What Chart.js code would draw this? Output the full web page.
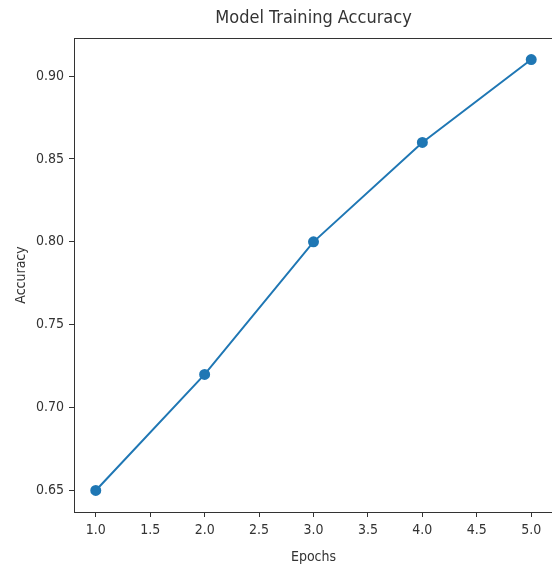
<!DOCTYPE html>
<html>
<head>
<meta charset="utf-8">
<script src="https://cdn.jsdelivr.net/npm/chart.js@4"></script>
<style>
  html, body { margin: 0; padding: 0; background: #fff; overflow: hidden; }
  #wrap { width: 600px; height: 568px; }
</style>
</head>
<body>
<div id="wrap"><canvas id="accChart"></canvas></div>
<script>
// data
const epochs = [1, 2, 3, 4, 5];
const accuracy = [0.65, 0.72, 0.80, 0.86, 0.91];
const xTicks = [1.0, 1.5, 2.0, 2.5, 3.0, 3.5, 4.0, 4.5, 5.0];
const yTicks = [0.65, 0.70, 0.75, 0.80, 0.85, 0.90];
const chartTitle = 'Model Training Accuracy';

const textColor = '#333';
const family = "'DejaVu Sans Condensed', 'DejaVu Sans', sans-serif";
const font = { family: family, size: 14 };

// top spine + title centred over the plot area (matplotlib style);
// the right spine falls just outside the cropped picture
const frame = {
    id: 'frame',
    afterDraw(chart) {
        const a = chart.chartArea;
        const c = chart.ctx;
        c.save();
        c.strokeStyle = '#333';
        c.lineWidth = 1;
        c.beginPath();
        c.moveTo(a.left, a.top + 0.5);
        c.lineTo(a.right, a.top + 0.5);
        c.stroke();
        c.fillStyle = textColor;
        c.font = '18px ' + family;
        c.textAlign = 'center';
        c.textBaseline = 'middle';
        c.fillText(chartTitle, (a.left + a.right) / 2, 18);
        c.restore();
    }
};

const ctx = document.getElementById('accChart').getContext('2d');
new Chart(ctx, {
    type: 'line',
    data: {
        datasets: [{
            data: epochs.map((e, i) => ({ x: e, y: accuracy[i] })),
            borderColor: '#1f77b4',
            backgroundColor: '#1f77b4',
            borderWidth: 2,
            pointRadius: 4.5,
            pointHoverRadius: 4.5,
            tension: 0
        }]
    },
    options: {
        responsive: true,
        maintainAspectRatio: false,
        animation: false,
        layout: { padding: { left: 9, right: 47, top: 38, bottom: 0 } },
        plugins: {
            legend: { display: false },
            tooltip: { enabled: false },
            title: { display: false }
        },
        scales: {
            x: {
                type: 'linear',
                min: 0.8,
                max: 5.2,
                afterBuildTicks: s => { s.ticks = xTicks.map(v => ({ value: v })); },
                afterFit: s => { s.height = 56; },
                ticks: {
                    color: textColor, font: font, padding: 5, maxRotation: 0,
                    callback: v => v.toFixed(1)
                },
                grid: { drawOnChartArea: false, tickLength: 5, color: '#333' },
                border: { color: '#333' },
                title: { display: true, text: 'Epochs', color: textColor, font: font, padding: { top: 4, bottom: 2 } }
            },
            y: {
                min: 0.637,
                max: 0.923,
                afterBuildTicks: s => { s.ticks = yTicks.map(v => ({ value: v })); },
                afterFit: s => { s.width = 65; },
                ticks: {
                    color: textColor, font: font, padding: 5,
                    callback: v => v.toFixed(2)
                },
                grid: { drawOnChartArea: false, tickLength: 5, color: '#333' },
                border: { color: '#333' },
                title: { display: true, text: 'Accuracy', color: textColor, font: font }
            }
        }
    },
    plugins: [frame]
});
</script>
</body>
</html>
